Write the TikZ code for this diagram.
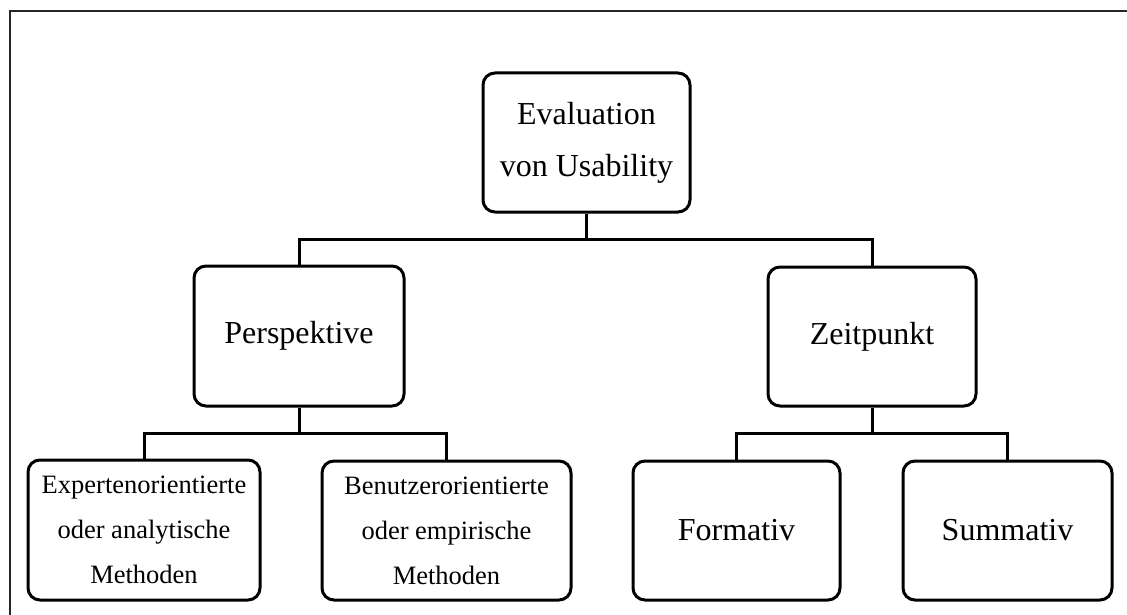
\documentclass[tikz,border=0pt]{standalone}
\usepackage{fontspec}
\setmainfont{Liberation Serif}
\begin{document}
\begin{tikzpicture}[x=1pt,y=-1pt,
  box/.style={draw=black,line width=3pt,rounded corners=12pt,align=center,inner sep=0pt,text=black},
  big/.style={font=\fontsize{32}{52}\selectfont},
  small/.style={font=\fontsize{26.5}{45}\selectfont},
  conn/.style={draw=black,line width=3pt},
  frame/.style={draw=black!85,line width=1.5pt}]
\useasboundingbox (0,0) rectangle (1127,615);
\fill[white] (0,0) rectangle (1127,615);
% frame lines
\coordinate (ftl) at (10,11);
\coordinate (ftr) at (1127,11);
\coordinate (fbl) at (10,615);
\draw[frame] (ftr) -- (ftl) -- (fbl);
% boxes
\node[box,big,minimum width=207pt,minimum height=139pt] (eval) at (586.5,142.5) {Evaluation\\von Usability};
\node[box,big,minimum width=210pt,minimum height=140pt] (persp) at (299,336) {Perspektive};
\node[box,big,minimum width=208pt,minimum height=139pt] (zeit) at (872,336.5) {Zeitpunkt};
\node[box,small,minimum width=232pt,minimum height=140pt] (exp) at (144,530) {Expertenorientierte\\oder analytische\\Methoden};
\node[box,small,minimum width=249pt,minimum height=139pt] (ben) at (446.5,530.5) {Benutzerorientierte\\oder empirische\\Methoden};
\node[box,big,minimum width=207pt,minimum height=139pt] (form) at (736.5,530.5) {Formativ};
\node[box,big,minimum width=209pt,minimum height=139pt] (summ) at (1007.5,530.5) {Summativ};
% junctions
\coordinate (j1) at (586.5,239);
\coordinate (j2) at (299,433);
\coordinate (j3) at (872,433);
\draw[conn] (eval.south) -- (j1);
\draw[conn] (persp.north) |- (j1) -| (zeit.north);
\draw[conn] (persp.south) -- (j2);
\draw[conn] (exp.north) |- (j2) -| (ben.north);
\draw[conn] (zeit.south) -- (j3);
\draw[conn] (form.north) |- (j3) -| (summ.north);
\end{tikzpicture}
\end{document}
